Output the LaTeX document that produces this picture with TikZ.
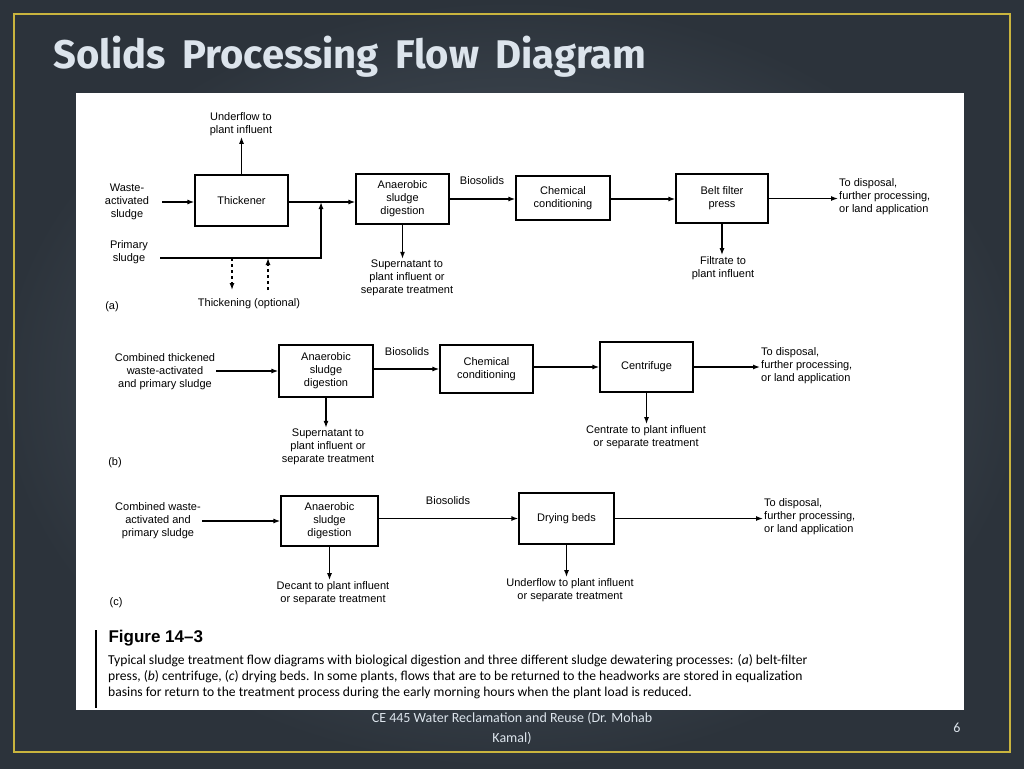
\documentclass[tikz,border=0pt]{standalone}
\usepackage{fontspec}
\setmainfont{Liberation Sans}
\newfontfamily\capfont{Carlito}
\newfontfamily\ttlfont{Fira Sans}
\usetikzlibrary{arrows.meta,positioning}
\definecolor{slate}{HTML}{56626E}
\definecolor{slatedark}{HTML}{2C333B}
\definecolor{rim}{HTML}{C9B43E}
\definecolor{ttl}{HTML}{DCE4EC}
\begin{document}
\begin{tikzpicture}[x=1pt,y=-1pt,
blk/.style={draw,line width=1.2pt,rectangle,inner sep=0pt,font=\fontsize{11}{13}\selectfont,align=center},
lbl/.style={font=\fontsize{11}{13}\selectfont,align=center,inner sep=1pt},
flow/.style={line width=1.3pt,-{Latex[length=7pt,width=5pt]}},
opt/.style={line width=1.3pt,dashed,-{Latex[length=7pt,width=5pt]}}]
% background
\shade[inner color=slate,outer color=slatedark] (0,0) rectangle (1024,768);
\useasboundingbox (0,0) rectangle (1024,768);
\draw[rim,line width=1.6pt] (14,14) rectangle (1010,752);
\node[anchor=west,text=ttl,font=\ttlfont\bfseries\fontsize{40}{44}\selectfont] (ttl) at (50,57) {Solids\,\ Processing\,\ Flow\,\ Diagram};
\fill[white] (76,93) rectangle (964,710);

% (a)
\node[blk,minimum width=93pt,minimum height=51pt] (thk) at (241.5,200.5) {Thickener};
\node[blk,minimum width=93pt,minimum height=50pt] (dg1) at (402.5,199) {Anaerobic\\sludge\\digestion};
\node[blk,minimum width=94pt,minimum height=44pt] (cc1) at (563,198) {Chemical\\conditioning};
\node[blk,minimum width=92pt,minimum height=49pt] (bfp) at (722,198.5) {Belt filter\\press};
\node[lbl] (was) at (127,202) {Waste-\\activated\\sludge};
\node[lbl] (prs) at (129,252) {Primary\\sludge};
\node[lbl] (ufl) at (241,124) {Underflow to\\plant influent};
\node[lbl] (sp1) at (407,278) {Supernatant to\\plant influent or\\separate treatment};
\node[lbl] (bs1) at (482,181) {Biosolids};
\node[lbl,anchor=west,align=left] (ds1) at (838,197) {To disposal,\\further processing,\\or land application};
\node[lbl] (flt) at (723,268) {Filtrate to\\plant influent};
\node[lbl] (thop) at (249,304) {Thickening (optional)};
\node[lbl] (pa) at (112,307) {(a)};
\coordinate (jn) at (321,202);
\coordinate (pe) at (160,258);
\coordinate (ws) at (162,202);
\draw[flow] (ws) -- (ws -| thk.west);
\draw[flow] (thk.east |- jn) -- (jn -| dg1.west);
\draw[flow] (pe) -| (jn);
\draw[flow] (thk.north) -- (thk.north |- ufl.south);
\draw[flow] (dg1.south) -- (dg1.south |- sp1.north);
\draw[flow] (dg1.east) -- (dg1.east -| cc1.west);
\draw[flow] (dg1.east -| cc1.east) -- (dg1.east -| bfp.west);
\draw[flow] (bfp.east) -- (bfp.east -| ds1.west);
\draw[flow] (bfp.south) -- (bfp.south |- flt.north);
\coordinate (d1) at (232,258); \coordinate (d2) at (232,290);
\coordinate (u1) at (268,290); \coordinate (u2) at (268,258);
\draw[opt] (d1) -- (d2);
\draw[opt] (u1) -- (u2);

% (b)
\node[blk,minimum width=94pt,minimum height=52pt] (dg2) at (326,371) {Anaerobic\\sludge\\digestion};
\node[blk,minimum width=93pt,minimum height=48pt] (cc2) at (486.5,369) {Chemical\\conditioning};
\node[blk,minimum width=93pt,minimum height=50pt] (cfg) at (646.5,367) {Centrifuge};
\node[lbl] (cb2) at (165,372) {Combined thickened\\waste-activated\\and primary sludge};
\node[lbl] (bs2) at (407,352) {Biosolids};
\node[lbl,anchor=west,align=left] (ds2) at (760,366) {To disposal,\\further processing,\\or land application};
\node[lbl] (sp2) at (328,447) {Supernatant to\\plant influent or\\separate treatment};
\node[lbl] (ctr) at (646,437) {Centrate to plant influent\\or separate treatment};
\node[lbl] (pb) at (115,463) {(b)};
\draw[flow] (cb2.east |- dg2.west) -- (dg2.west);
\draw[flow] (dg2.east |- cc2.west) -- (cc2.west);
\draw[flow] (cc2.east |- cfg.west) -- (cfg.west);
\draw[flow] (cfg.east) -- (cfg.east -| ds2.west);
\draw[flow] (dg2.south) -- (dg2.south |- sp2.north);
\draw[flow] (cfg.south) -- (cfg.south |- ctr.north);

% (c)
\node[blk,minimum width=97pt,minimum height=50pt] (dg3) at (329.5,521) {Anaerobic\\sludge\\digestion};
\node[blk,minimum width=95pt,minimum height=51pt] (dbd) at (566.5,518.5) {Drying beds};
\node[lbl] (cb3) at (158,521) {Combined waste-\\activated and\\primary sludge};
\node[lbl] (bs3) at (448,501) {Biosolids};
\node[lbl,anchor=west,align=left] (ds3) at (763,517) {To disposal,\\further processing,\\or land application};
\node[lbl] (dct) at (333,593) {Decant to plant influent\\or separate treatment};
\node[lbl] (ufc) at (570,590) {Underflow to plant influent\\or separate treatment};
\node[lbl] (pc) at (116,603) {(c)};
\draw[flow] (cb3.east |- dg3.west) -- (dg3.west);
\draw[flow] (dg3.east |- dbd.west) -- (dbd.west);
\draw[flow] (dbd.east) -- (dbd.east -| ds3.west);
\draw[flow] (dg3.south) -- (dg3.south |- dct.north);
\draw[flow] (dbd.south) -- (dbd.south |- ufc.north);

% caption
\draw[line width=1.4pt] (96,630) -- (96,708);
\node[anchor=west,font=\fontsize{17}{18}\bfseries\selectfont] (fig) at (105,638) {Figure 14--3};
\node[anchor=north west,align=left,font=\capfont\fontsize{13.6}{16}\selectfont,inner sep=0pt] (cap) at (108,654)
{Typical sludge treatment flow diagrams with biological digestion and three different sludge dewatering processes: (\emph{a}) belt-filter\\
press, (\emph{b}) centrifuge, (\emph{c}) drying beds. In some plants, flows that are to be returned to the headworks are stored in equalization\\
basins for return to the treatment process during the early morning hours when the plant load is reduced.};

% footer
\node[text=ttl,font=\capfont\fontsize{14}{20}\selectfont,align=center] (foot) at (512,728) {CE 445 Water Reclamation and Reuse (Dr. Mohab\\Kamal)};
\node[text=ttl,font=\capfont\fontsize{14}{16}\selectfont] (pg) at (957,728) {6};
\end{tikzpicture}
\end{document}
